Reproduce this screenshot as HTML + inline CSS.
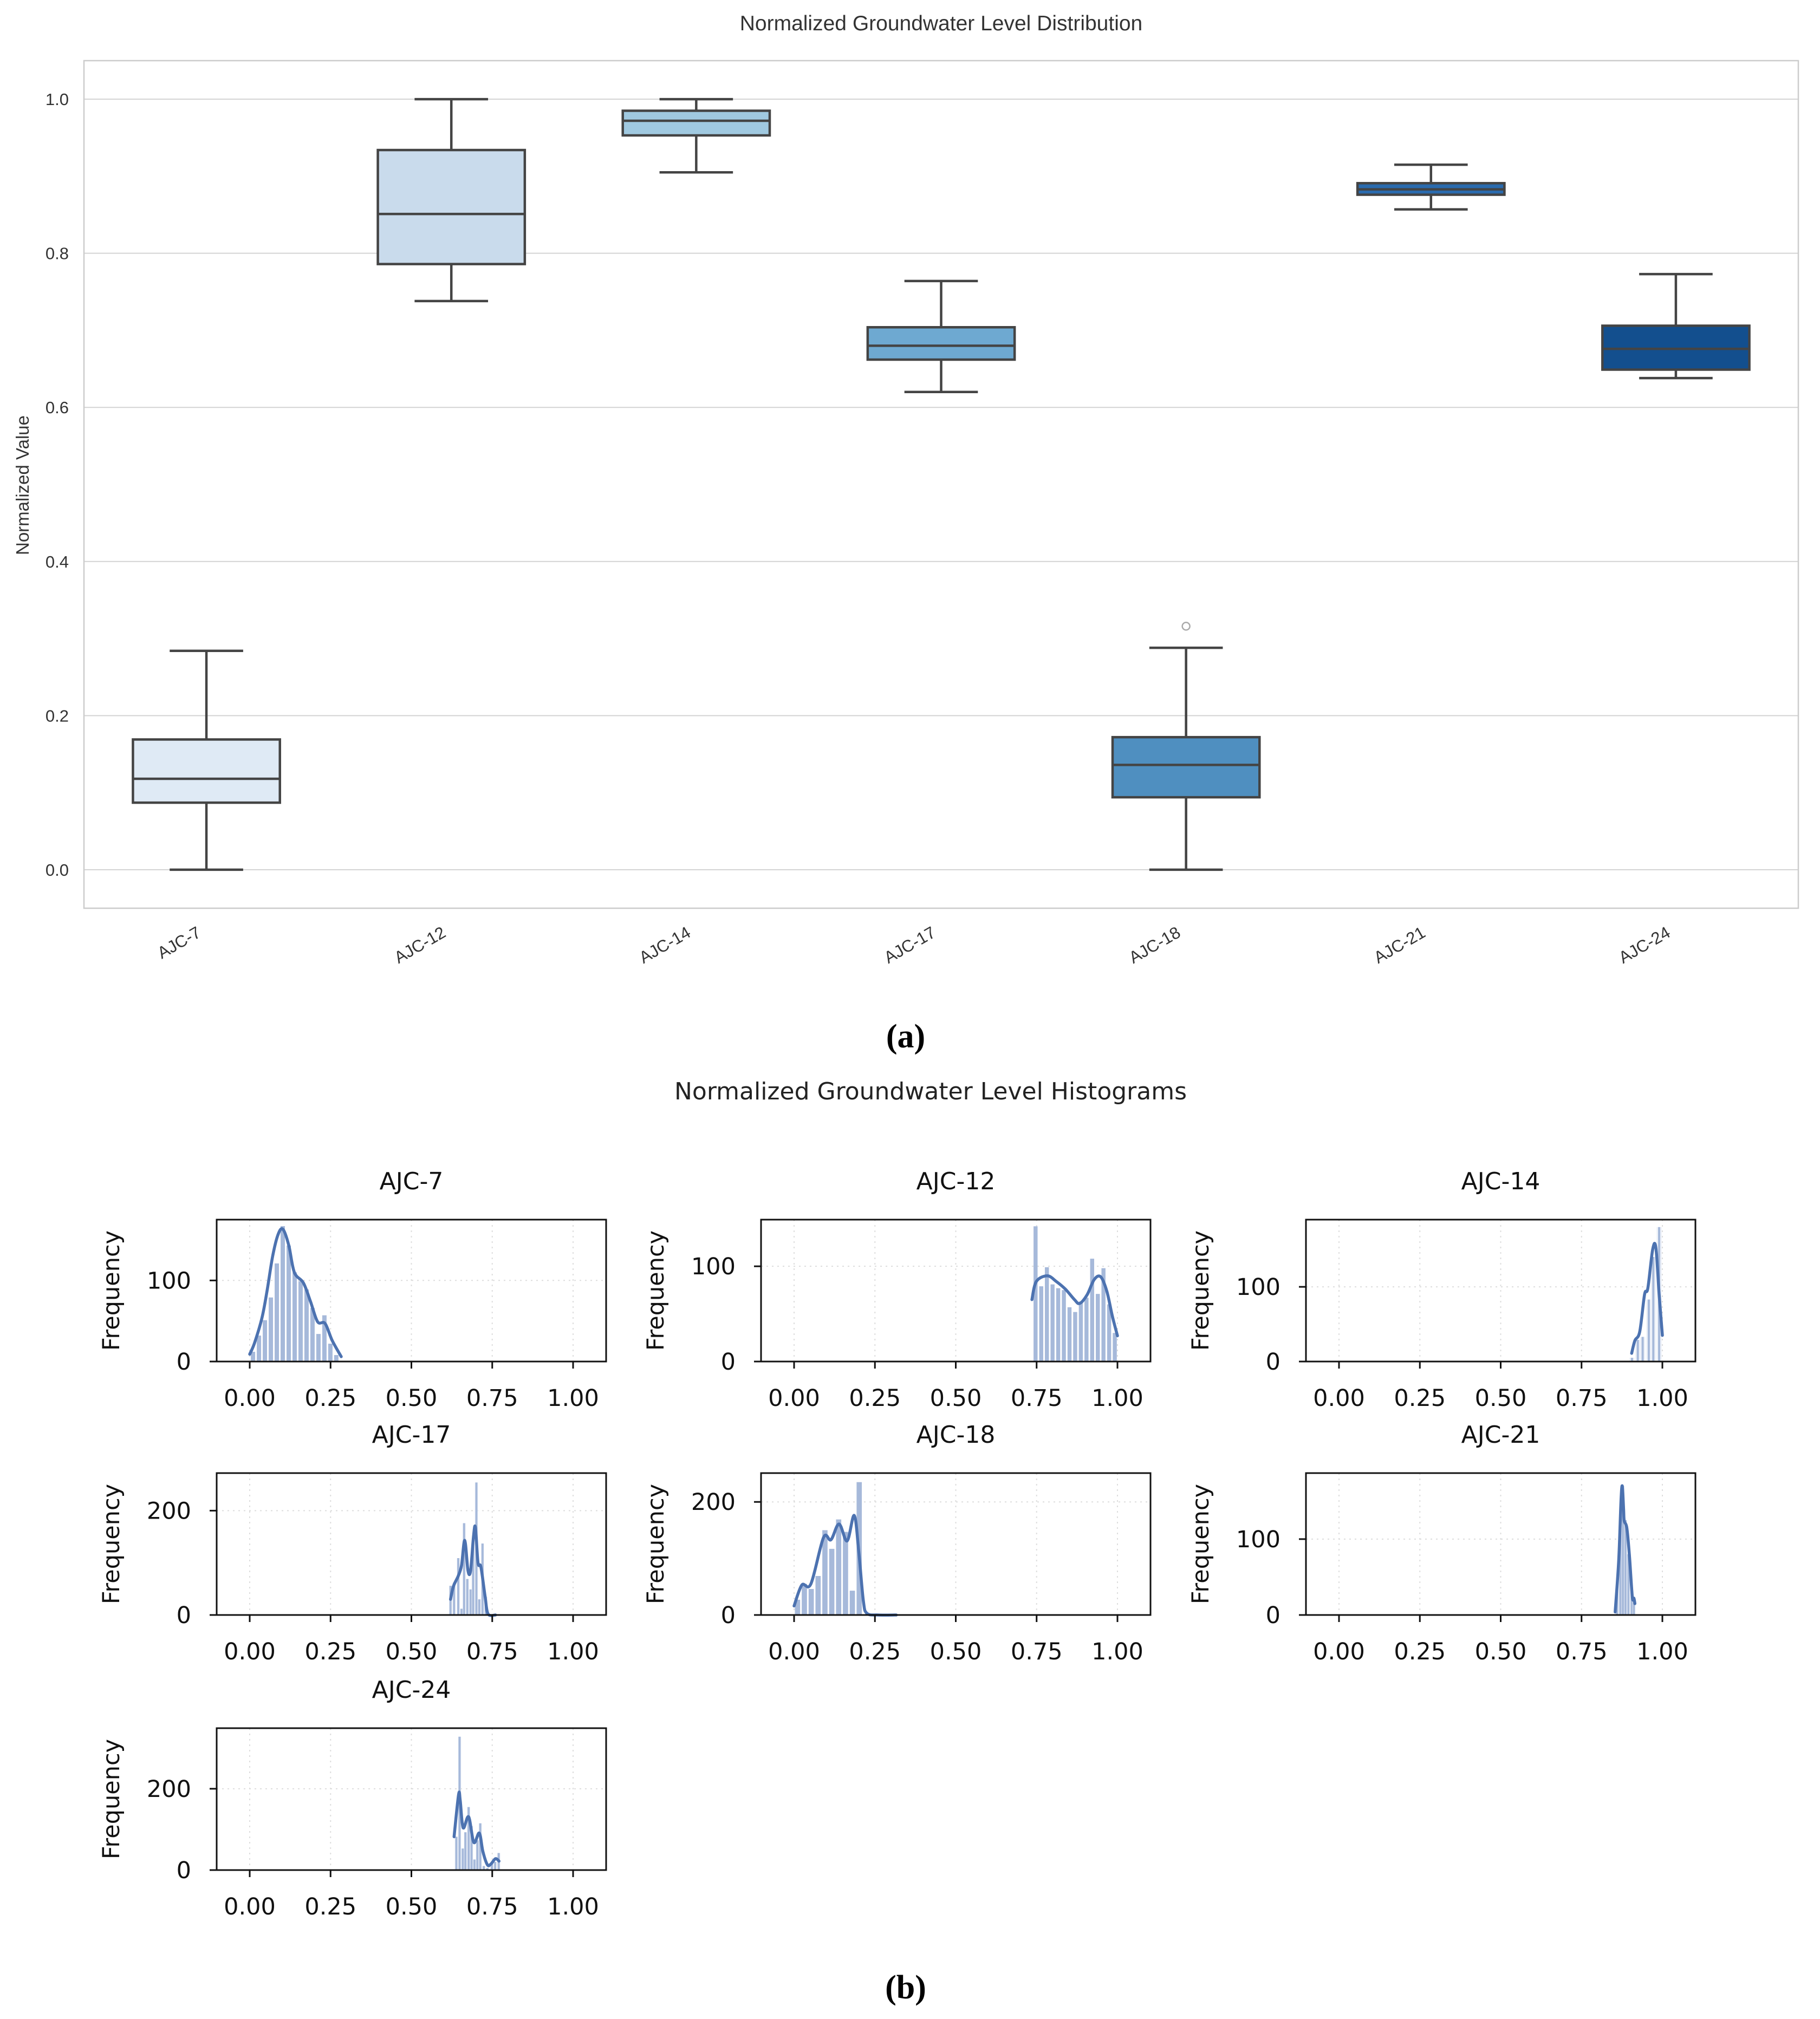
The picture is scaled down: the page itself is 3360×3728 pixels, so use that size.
<!DOCTYPE html>
<html><head><meta charset="utf-8"><style>
html,body{margin:0;padding:0;background:#fff}
svg{display:block}
</style></head><body>
<svg id="fig" width="3360" height="3728" viewBox="0 0 3360 3728" xmlns="http://www.w3.org/2000/svg">
<rect x="0" y="0" width="3360" height="3728" fill="#fff"/>
<g id="boxplot"></g>
<text x="1672" y="1934" font-family="Liberation Serif, serif" font-weight="bold" font-size="62" text-anchor="middle" fill="#000">(a)</text>
<text x="1718" y="2030" font-family="DejaVu Sans, sans-serif" font-size="44" text-anchor="middle" fill="#222">Normalized Groundwater Level Histograms</text>
<g id="hists"></g>
<text x="1672" y="3690" font-family="Liberation Serif, serif" font-weight="bold" font-size="62" text-anchor="middle" fill="#000">(b)</text>
</svg>
<script>
// ---- box plot data ----
const wells = ["AJC-7","AJC-12","AJC-14","AJC-17","AJC-18","AJC-21","AJC-24"];
const whiskLo = [0.0,0.738,0.905,0.620,0.0,0.857,0.638];
const q1s =     [0.087,0.786,0.953,0.662,0.094,0.876,0.649];
const medians = [0.118,0.851,0.972,0.680,0.136,0.883,0.676];
const q3s =     [0.169,0.934,0.985,0.704,0.172,0.891,0.706];
const whiskHi = [0.284,1.0,1.0,0.764,0.288,0.915,0.773];
const outlierWell = [4];
const outlierVal = [0.316];
const yTicksBox = [0.0,0.2,0.4,0.6,0.8,1.0];
const boxColors = ["#dfeaf5","#c9dbec","#a0c9e0","#6ea9d1","#4f8fc0","#2a6bae","#134f8e"];

// ---- histogram data ----
const h7_start=0.001, h7_w=0.0184;
const h7_counts=[12,32,51,79,121,167,143,110,99,89,66,34,57,22,8];
const h7_kx=[0.0,0.015,0.038,0.054,0.071,0.088,0.103,0.121,0.138,0.166,0.188,0.210,0.233,0.255,0.283];
const h7_ky=[9,23,54,88,130,157,163,143,110,97,74,49,47,26,6];
const h12_start=0.738, h12_w=0.0175;
const h12_counts=[142,79,99,81,77,75,57,52,63,67,108,71,98,60,30];
const h12_kx=[0.7355,0.749,0.783,0.811,0.839,0.867,0.883,0.906,0.928,0.948,0.967,0.984,1.0];
const h12_ky=[65,84,90,84,76,65,61,70,86,89,74,48,27];
const h14_x=[0.906,0.924,0.939,0.958,0.972,0.990];
const h14_counts=[5,29,33,83,140,180];
const h14_kx=[0.905,0.915,0.93,0.945,0.955,0.97,0.98,0.99,1.0];
const h14_ky=[11,28,40,90,98,150,152,90,35];
const h17_x=[0.621,0.632,0.645,0.655,0.663,0.673,0.683,0.691,0.701,0.710,0.720,0.730];
const h17_counts=[56,62,109,12,176,69,49,138,254,30,137,35];
const h17_kx=[0.621,0.63,0.645,0.655,0.665,0.675,0.683,0.692,0.698,0.706,0.715,0.728,0.737,0.76];
const h17_ky=[30,55,75,95,143,85,85,150,168,100,92,35,2,0];
const h18_start=0.0, h18_w=0.0212;
const h18_counts=[27,55,46,69,150,117,169,147,43,235,1,0,0,0,1];
const h18_kx=[0.0,0.024,0.052,0.091,0.114,0.139,0.164,0.186,0.2,0.214,0.225,0.26,0.316];
const h18_ky=[16,53,55,137,133,161,131,176,112,26,3,0,0];
const h21_x=[0.860,0.870,0.878,0.886,0.895,0.905,0.912];
const h21_counts=[40,120,170,125,80,30,20];
const h21_kx=[0.854,0.865,0.872,0.876,0.880,0.882,0.890,0.898,0.907,0.912,0.915];
const h21_ky=[4,72,150,170,140,124,115,79,24,22,15];
const h24_x=[0.639,0.649,0.659,0.667,0.677,0.686,0.695,0.704,0.713,0.724,0.735,0.749,0.759,0.770];
const h24_counts=[82,328,53,93,155,108,26,73,115,10,5,15,20,42];
const h24_kx=[0.632,0.646,0.651,0.660,0.677,0.693,0.710,0.721,0.735,0.746,0.760,0.771];
const h24_ky=[82,186,171,104,131,68,91,46,13,15,28,22];
const histYTicks7=[0,100], histYTicks12=[0,100], histYTicks14=[0,100], histYTicks17=[0,200], histYTicks18=[0,200], histYTicks21=[0,100], histYTicks24=[0,200];
const histXTicks=[0,0.25,0.5,0.75,1.0];
const histXTickLabels=["0.00","0.25","0.50","0.75","1.00"];

const NS="http://www.w3.org/2000/svg";
function mk(tag,attrs,parent){const e=document.createElementNS(NS,tag);for(const k in attrs)e.setAttribute(k,attrs[k]);parent.appendChild(e);return e;}

// ===== Box plot =====
const bp=document.getElementById('boxplot');
const L=155,R=3320,T=112,B=1677;
const yMin=-0.05,yMax=1.05;
const yS=v=>B-(v-yMin)/(yMax-yMin)*(B-T);
const xS=i=>L+(i+0.5)*(R-L)/wells.length;
const bw=0.6*(R-L)/wells.length;
yTicksBox.forEach(t=>{
  const g=mk('line',{x1:L,x2:R,y1:yS(t),y2:yS(t),stroke:'#d3d3d3','stroke-width':2},bp);
  
  
  const tx=mk('text',{x:L-28,y:yS(t)+11,'text-anchor':'end','font-family':'Liberation Sans, sans-serif','font-size':31,fill:'#333'},bp);
  tx.textContent=t.toFixed(1);
  
  
});
const fr=mk('rect',{x:L,y:T,width:R-L,height:B-T,fill:'none',stroke:'#cccccc','stroke-width':2.5},bp);


const ttl=mk('text',{x:(L+R)/2,y:56,'text-anchor':'middle','font-family':'Liberation Sans, sans-serif','font-size':39,fill:'#333'},bp);
ttl.textContent='Normalized Groundwater Level Distribution';


const yl=mk('text',{x:0,y:0,transform:'translate(53,896) rotate(-90)','text-anchor':'middle','font-family':'Liberation Sans, sans-serif','font-size':33,fill:'#333'},bp);
yl.textContent='Normalized Value';


const LC='#444444',LW=4.5;
wells.forEach((w,i)=>{
  const cx=xS(i);
  const g=mk('g',{},bp);
  
  
  mk('line',{x1:cx,x2:cx,y1:yS(whiskLo[i]),y2:yS(q1s[i]),stroke:LC,'stroke-width':LW},g);
  mk('line',{x1:cx,x2:cx,y1:yS(q3s[i]),y2:yS(whiskHi[i]),stroke:LC,'stroke-width':LW},g);
  mk('line',{x1:cx-bw/4,x2:cx+bw/4,y1:yS(whiskLo[i]),y2:yS(whiskLo[i]),stroke:LC,'stroke-width':LW},g);
  mk('line',{x1:cx-bw/4,x2:cx+bw/4,y1:yS(whiskHi[i]),y2:yS(whiskHi[i]),stroke:LC,'stroke-width':LW},g);
  mk('rect',{x:cx-bw/2,y:yS(q3s[i]),width:bw,height:yS(q1s[i])-yS(q3s[i]),fill:boxColors[i],stroke:LC,'stroke-width':LW},g);
  mk('line',{x1:cx-bw/2,x2:cx+bw/2,y1:yS(medians[i]),y2:yS(medians[i]),stroke:LC,'stroke-width':LW},g);
  const lb=mk('text',{x:0,y:0,transform:`translate(${cx-8},${1728}) rotate(-30)`,'text-anchor':'end','font-family':'Liberation Sans, sans-serif','font-size':31,fill:'#333'},bp);
  lb.textContent=w;
  
  
});
outlierWell.forEach((wi,k)=>{
  const c=mk('circle',{cx:xS(wi),cy:yS(outlierVal[k]),r:7,fill:'none',stroke:'#aaaaaa','stroke-width':2.5},bp);
  
  
});

// ===== Histograms =====
const hg=document.getElementById('hists');
function smoothPath(pts){
  let d=`M${pts[0][0]},${pts[0][1]}`;
  for(let i=0;i<pts.length-1;i++){
    const p0=pts[Math.max(0,i-1)],p1=pts[i],p2=pts[i+1],p3=pts[Math.min(pts.length-1,i+2)];
    const c1x=p1[0]+(p2[0]-p0[0])/6,c1y=p1[1]+(p2[1]-p0[1])/6;
    const c2x=p2[0]-(p3[0]-p1[0])/6,c2y=p2[1]-(p3[1]-p1[1])/6;
    d+=` C${c1x},${c1y} ${c2x},${c2y} ${p2[0]},${p2[1]}`;
  }
  return d;
}
const panels=[
 {name:'AJC-7',col:0,row:0,ymax:175,ticks:histYTicks7,mode:'solid',start:h7_start,w:h7_w,counts:h7_counts,kx:h7_kx,ky:h7_ky},
 {name:'AJC-12',col:1,row:0,ymax:149,ticks:histYTicks12,mode:'solid',start:h12_start,w:h12_w,counts:h12_counts,kx:h12_kx,ky:h12_ky},
 {name:'AJC-14',col:2,row:0,ymax:190,ticks:histYTicks14,mode:'thin',xs:h14_x,w:0.016,counts:h14_counts,kx:h14_kx,ky:h14_ky},
 {name:'AJC-17',col:0,row:1,ymax:272,ticks:histYTicks17,mode:'thin',xs:h17_x,w:0.0095,counts:h17_counts,kx:h17_kx,ky:h17_ky},
 {name:'AJC-18',col:1,row:1,ymax:251,ticks:histYTicks18,mode:'solid',start:h18_start,w:h18_w,counts:h18_counts,kx:h18_kx,ky:h18_ky},
 {name:'AJC-21',col:2,row:1,ymax:187,ticks:histYTicks21,mode:'thin',xs:h21_x,w:0.009,counts:h21_counts,kx:h21_kx,ky:h21_ky},
 {name:'AJC-24',col:0,row:2,ymax:349,ticks:histYTicks24,mode:'thin',xs:h24_x,w:0.0095,counts:h24_counts,kx:h24_kx,ky:h24_ky}
];
const colL=[400,1405,2411], colW=719;
const rowT=[2252,2720,3191], rowH=262;
panels.forEach(p=>{
  const ax=colL[p.col], ay=rowT[p.row], aw=colW, ah=rowH;
  const X=v=>ax+61+v*597;
  const Y=c=>ay+ah-c/p.ymax*ah;
  const g=mk('g',{},hg);
  
  
  histXTicks.forEach(t=>{mk('line',{x1:X(t),x2:X(t),y1:ay,y2:ay+ah,stroke:'#dddddd','stroke-width':2,'stroke-dasharray':'3,7'},g);});
  p.ticks.forEach(t=>{mk('line',{x1:ax,x2:ax+aw,y1:Y(t),y2:Y(t),stroke:'#dddddd','stroke-width':2,'stroke-dasharray':'3,7'},g);});
  const bars=mk('g',{},g);
  
  
  if(p.mode==='solid'){
    p.counts.forEach((c,i)=>{
      if(c<=0)return;
      const x0=X(p.start+i*p.w), x1=X(p.start+(i+1)*p.w);
      const r=mk('rect',{x:x0+1.5,y:Y(c),width:Math.max(1,x1-x0-3),height:Y(0)-Y(c),fill:'#a6b9da'},bars);
      
      
    });
  } else {
    p.counts.forEach((c,i)=>{
      const xc=X(p.xs[i]);
      const bwp=p.w*597;
      const bg=mk('rect',{x:xc-bwp/2,y:Y(c),width:bwp,height:Y(0)-Y(c),fill:'#eef2f9'},bars);
      
      
      const r=mk('rect',{x:xc-2,y:Y(c),width:4,height:Y(0)-Y(c),fill:'#a6b9da'},bars);
      
      
    });
  }
  const pts=p.kx.map((v,i)=>[X(v),Y(p.ky[i])]);
  const kd=mk('path',{d:smoothPath(pts),fill:'none',stroke:'#4c72b0','stroke-width':5.5,'stroke-linejoin':'round','stroke-linecap':'round'},g);
  
  
  const f=mk('rect',{x:ax,y:ay,width:aw,height:ah,fill:'none',stroke:'#111','stroke-width':3},g);
  
  
  histXTicks.forEach((t,i)=>{
    mk('line',{x1:X(t),x2:X(t),y1:ay+ah,y2:ay+ah+13,stroke:'#111','stroke-width':3},g);
    const tl=mk('text',{x:X(t),y:ay+ah+82,'text-anchor':'middle','font-family':'DejaVu Sans, sans-serif','font-size':43,fill:'#111'},g);
    tl.textContent=histXTickLabels[i];
    
    
  });
  p.ticks.forEach(t=>{
    mk('line',{x1:ax-13,x2:ax,y1:Y(t),y2:Y(t),stroke:'#111','stroke-width':3},g);
    const tl=mk('text',{x:ax-47,y:Y(t)+15,'text-anchor':'end','font-family':'DejaVu Sans, sans-serif','font-size':43,fill:'#111'},g);
    tl.textContent=String(t);
    
    
  });
  const yl=mk('text',{x:0,y:0,transform:`translate(${ax-180},${ay+ah/2}) rotate(-90)`,'text-anchor':'middle','font-family':'DejaVu Sans, sans-serif','font-size':43,fill:'#111'},g);
  yl.textContent='Frequency';
  
  
  const st=mk('text',{x:ax+aw/2,y:ay-56,'text-anchor':'middle','font-family':'DejaVu Sans, sans-serif','font-size':44,fill:'#111'},g);
  st.textContent=p.name;
  
  
});
</script>
</body></html>
